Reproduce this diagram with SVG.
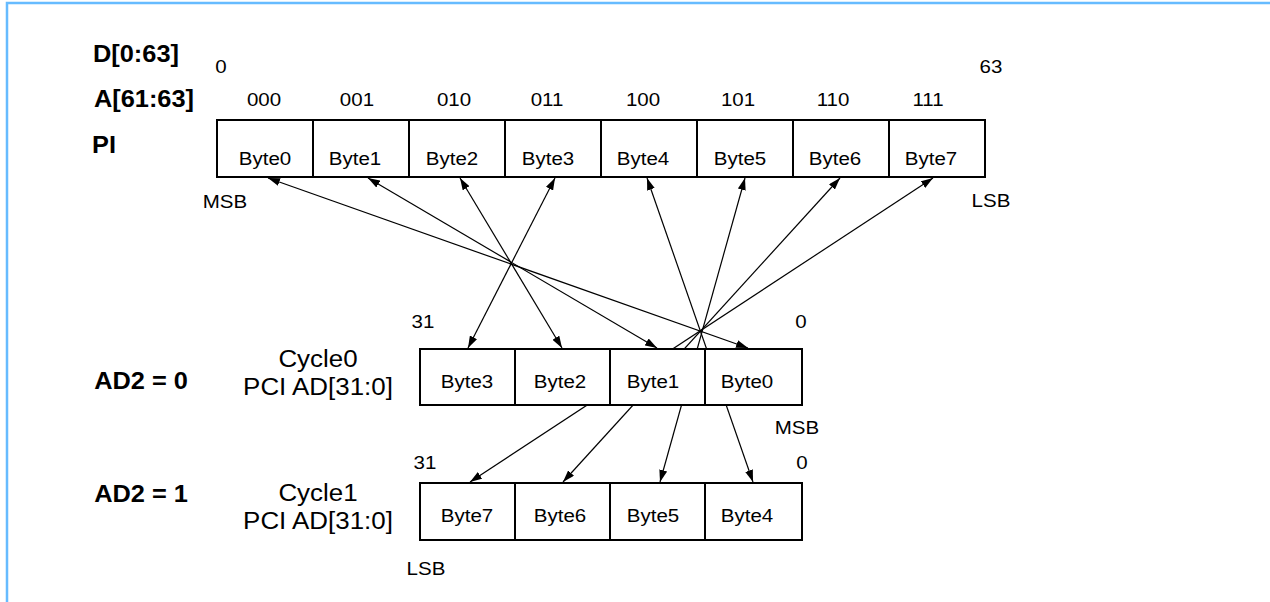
<svg xmlns="http://www.w3.org/2000/svg" width="1270" height="602" viewBox="0 0 1270 602">
  <style>
    text { font-family: "Liberation Sans", Arial, sans-serif; fill: #000; text-anchor: middle;
           transform-box: fill-box; transform-origin: center; transform: scaleX(1.08); }
    .lbl { font-size: 23.5px; font-weight: bold; }
    .cyc { font-size: 24px; }
    .sm  { font-size: 19px; }
    .box { fill: #fff; stroke: #000; stroke-width: 2; }
    .div { stroke: #000; stroke-width: 2; }
    .con { stroke: #000; stroke-width: 1.2; fill: none; marker-start: url(#ah); marker-end: url(#ah); }
    .frame { stroke: #66BBFF; stroke-width: 2.5; fill: none; }
  </style>
  <defs>
    <marker id="ah" viewBox="0 0 12 8" refX="12" refY="4" markerWidth="12" markerHeight="8"
            markerUnits="userSpaceOnUse" orient="auto-start-reverse">
      <path d="M0,0 L12,4 L0,8 z" fill="#000"/>
    </marker>
  </defs>

  <rect width="1270" height="602" fill="#fff"/>
  <path class="frame" d="M7,602 V3 H1270"/>

  <!-- row labels -->
  <g id="label-d"><text class="lbl" x="136" y="62">D[0:63]</text></g>
  <g id="label-a"><text class="lbl" x="144" y="107">A[61:63]</text></g>
  <g id="label-pi"><text class="lbl" x="104" y="153">PI</text></g>
  <g id="label-ad2-0"><text class="lbl" x="141" y="389">AD2 = 0</text></g>
  <g id="label-ad2-1"><text class="lbl" x="141" y="502">AD2 = 1</text></g>
  <g id="label-cycle0">
    <text class="cyc" x="318" y="367">Cycle0</text>
    <text class="cyc" x="318" y="395">PCI AD[31:0]</text>
  </g>
  <g id="label-cycle1">
    <text class="cyc" x="318" y="501">Cycle1</text>
    <text class="cyc" x="318" y="529">PCI AD[31:0]</text>
  </g>

  <!-- byte lane connectors -->
  <g id="connectors">
    <line class="con" x1="748" y1="348" x2="268" y2="178"/>
    <line class="con" x1="657" y1="348" x2="368" y2="178"/>
    <line class="con" x1="562" y1="348" x2="460" y2="178"/>
    <line class="con" x1="468" y1="348" x2="555" y2="178"/>
    <line class="con" x1="753" y1="482" x2="647" y2="178"/>
    <line class="con" x1="660" y1="482" x2="745" y2="178"/>
    <line class="con" x1="563" y1="482" x2="840" y2="178"/>
    <line class="con" x1="470" y1="482" x2="933" y2="178"/>
  </g>

  <!-- 64-bit PI data bus -->
  <g id="pi-bus">
    <text class="sm" x="221" y="73">0</text>
    <text class="sm" x="991" y="73">63</text>
    <text class="sm" x="264" y="106">000</text>
    <text class="sm" x="357" y="106">001</text>
    <text class="sm" x="454" y="106">010</text>
    <text class="sm" x="547" y="106">011</text>
    <text class="sm" x="643" y="106">100</text>
    <text class="sm" x="738" y="106">101</text>
    <text class="sm" x="833" y="106">110</text>
    <text class="sm" x="928" y="106">111</text>
    <rect class="box" x="217" y="120" width="768" height="57"/>
    <path class="div" d="M313,120 V177 M409,120 V177 M505,120 V177 M601,120 V177 M697,120 V177 M793,120 V177 M889,120 V177"/>
    <text class="sm" x="265" y="165">Byte0</text>
    <text class="sm" x="355" y="165">Byte1</text>
    <text class="sm" x="452" y="165">Byte2</text>
    <text class="sm" x="548" y="165">Byte3</text>
    <text class="sm" x="643" y="165">Byte4</text>
    <text class="sm" x="740" y="165">Byte5</text>
    <text class="sm" x="835" y="165">Byte6</text>
    <text class="sm" x="931" y="165">Byte7</text>
    <text class="sm" x="225" y="208">MSB</text>
    <text class="sm" x="991" y="207">LSB</text>
  </g>

  <!-- PCI cycle 0 -->
  <g id="pci-cycle0">
    <text class="sm" x="423" y="328">31</text>
    <text class="sm" x="801" y="328">0</text>
    <rect class="box" x="420" y="349" width="382" height="56"/>
    <path class="div" d="M515,349 V405 M610,349 V405 M705,349 V405"/>
    <text class="sm" x="467" y="388">Byte3</text>
    <text class="sm" x="560" y="388">Byte2</text>
    <text class="sm" x="653" y="388">Byte1</text>
    <text class="sm" x="747" y="388">Byte0</text>
    <text class="sm" x="797" y="434">MSB</text>
  </g>

  <!-- PCI cycle 1 -->
  <g id="pci-cycle1">
    <text class="sm" x="425" y="469">31</text>
    <text class="sm" x="802" y="469">0</text>
    <rect class="box" x="420" y="483" width="382" height="57"/>
    <path class="div" d="M515,483 V540 M610,483 V540 M705,483 V540"/>
    <text class="sm" x="467" y="522">Byte7</text>
    <text class="sm" x="560" y="522">Byte6</text>
    <text class="sm" x="653" y="522">Byte5</text>
    <text class="sm" x="747" y="522">Byte4</text>
    <text class="sm" x="426" y="575">LSB</text>
  </g>
</svg>
